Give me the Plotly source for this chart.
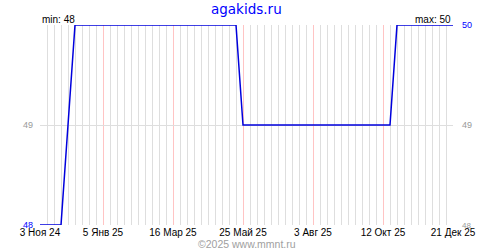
import plotly.graph_objects as go

# ---- data ----
dates = ["2024-11-03", "2024-11-24", "2024-12-01", "2024-12-08", "2025-05-18",
         "2025-05-25", "2025-10-19", "2025-10-26", "2025-12-21"]
values = [48, 48, 49, 50, 50, 49, 49, 50, 50]

x_tick_dates = ["2024-11-03", "2025-01-05", "2025-03-16", "2025-05-25",
                "2025-08-03", "2025-10-12", "2025-12-21"]
x_tick_labels = ["3 Ноя 24", "5 Янв 25", "16 Мар 25", "25 Май 25",
                 "3 Авг 25", "12 Окт 25", "21 Дек 25"]

left_y_vals = [48, 49]
left_y_text = ['<span style="color:#0000ff">48</span>', "49"]
right_y_vals = [48, 49, 50]
right_y_text = ['<span style="font-size:8px">48</span>', "49",
                '<span style="color:#0000ff">50</span>']

title_text = "agakids.ru"
footer_text = "©2025 www.mmnt.ru"
min_text = "min: 48"
max_text = "max: 50"

WEEK = 7 * 86400000
FONT = "Liberation Sans, Arial, sans-serif"

fig = go.Figure()
fig.add_trace(go.Scatter(x=dates, y=values, mode="lines",
                         line=dict(color="#0000dd", width=1.5),
                         hoverinfo="skip", showlegend=False))
fig.add_trace(go.Scatter(x=dates, y=values, mode="lines", yaxis="y2",
                         line=dict(color="rgba(0,0,0,0)", width=0),
                         hoverinfo="skip", showlegend=False))

fig.update_layout(
    width=500, height=250,
    margin=dict(l=40, r=47, t=25, b=25),
    paper_bgcolor="white", plot_bgcolor="white",
    font=dict(family=FONT, size=10, color="black"),
    xaxis=dict(
        type="date", range=["2024-11-03", "2025-12-21"],
        tickmode="array", tickvals=x_tick_dates, ticktext=x_tick_labels,
        showgrid=True, gridcolor="#ffc4c4", gridwidth=1,
        minor=dict(tick0="2024-11-03", dtick=WEEK, showgrid=True,
                   gridcolor="#dedede", gridwidth=1),
        showline=False, zeroline=False, ticks="",
        tickfont=dict(family=FONT, size=10, color="black"),
        ticklabelstandoff=0,
    ),
    yaxis=dict(
        range=[48, 50], tickmode="array", tickvals=left_y_vals, ticktext=left_y_text,
        showgrid=True, gridcolor="#dedede", gridwidth=1,
        showline=False, zeroline=False, ticks="",
        tickfont=dict(family=FONT, size=9, color="#999999"),
        ticklabelstandoff=6,
    ),
    yaxis2=dict(
        range=[48, 50], overlaying="y", side="right",
        tickmode="array", tickvals=right_y_vals, ticktext=right_y_text,
        showgrid=False, showline=False, zeroline=False, ticks="",
        tickfont=dict(family=FONT, size=9, color="#999999"),
        ticklabelstandoff=8,
    ),
    annotations=[
        dict(text=title_text, xref="paper", yref="paper", x=0.5, y=1.08,
             xanchor="center", yanchor="middle", showarrow=False,
             font=dict(family="DejaVu Sans", size=13.5, color="#0000ff")),
        dict(text=footer_text, xref="paper", yref="paper", x=0.5, y=-0.095,
             xanchor="center", yanchor="middle", showarrow=False,
             font=dict(family=FONT, size=10.5, color="#a0a0a0")),
        dict(text=min_text, xref="paper", yref="paper", x=0.0, y=1.0275,
             xanchor="left", yanchor="middle", showarrow=False,
             font=dict(family=FONT, size=10, color="black")),
        dict(text=max_text, xref="paper", yref="paper", x=1.0, y=1.0275,
             xanchor="right", yanchor="middle", showarrow=False,
             font=dict(family=FONT, size=10, color="black")),
    ],
)

fig.write_html("out.html")
